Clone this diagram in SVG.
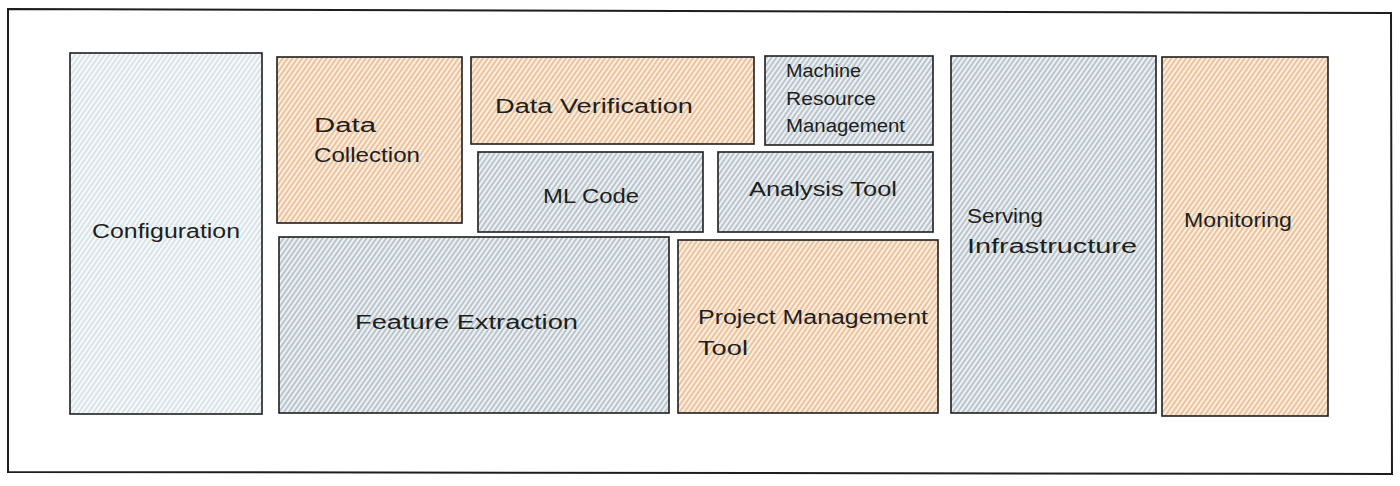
<svg xmlns="http://www.w3.org/2000/svg" width="1400" height="486" viewBox="0 0 1400 486">
<defs>
<pattern id="hOrange" patternUnits="userSpaceOnUse" width="5" height="4" patternTransform="rotate(-55)">
<rect width="5" height="4" fill="#fbeee2"/>
<line x1="0" y1="1" x2="5" y2="1" stroke="#e9b88a" stroke-width="1.6"/>
</pattern>
<pattern id="hBlue" patternUnits="userSpaceOnUse" width="5" height="4" patternTransform="rotate(-55)">
<rect width="5" height="4" fill="#eef1f3"/>
<line x1="0" y1="1" x2="5" y2="1" stroke="#a9b6bf" stroke-width="1.5"/>
</pattern>
<pattern id="hLight" patternUnits="userSpaceOnUse" width="5" height="4" patternTransform="rotate(-55)">
<rect width="5" height="4" fill="#f7f9fa"/>
<line x1="0" y1="1" x2="5" y2="1" stroke="#d0dde2" stroke-width="1.5"/>
</pattern>
</defs>
<style>
.box{stroke:#1e1e1e;stroke-width:1.6;}
.or{fill:url(#hOrange);}
.bl{fill:url(#hBlue);}
.lt{fill:url(#hLight);}
.t{font-family:"Liberation Sans","DejaVu Sans",sans-serif;font-size:20px;fill:#1e1e1e;}
.s{font-size:18px;}
</style>
<rect width="1400" height="486" fill="#ffffff"/>
<path d="M8 9 L1391 13 L1392 474 L8 472 Z" fill="none" stroke="#1e1e1e" stroke-width="2"/>
<g id="configuration">
<rect class="box lt" x="70" y="53" width="192" height="361"/>
<text class="t" x="92" y="238" textLength="148" lengthAdjust="spacingAndGlyphs">Configuration</text>
</g>
<g id="data-collection">
<rect class="box or" x="277" y="57" width="185" height="166"/>
<text class="t" x="314" y="132" textLength="62" lengthAdjust="spacingAndGlyphs">Data</text>
<text class="t" x="314" y="162" textLength="106" lengthAdjust="spacingAndGlyphs">Collection</text>
</g>
<g id="data-verification">
<rect class="box or" x="471" y="57" width="283" height="87"/>
<text class="t" x="495" y="113" textLength="198" lengthAdjust="spacingAndGlyphs">Data Verification</text>
</g>
<g id="machine-resource-management">
<rect class="box bl" x="765" y="56" width="168" height="89"/>
<text class="t s" x="786" y="77" textLength="75" lengthAdjust="spacingAndGlyphs">Machine</text>
<text class="t s" x="786" y="105" textLength="90" lengthAdjust="spacingAndGlyphs">Resource</text>
<text class="t s" x="786" y="132" textLength="119" lengthAdjust="spacingAndGlyphs">Management</text>
</g>
<g id="ml-code">
<rect class="box bl" x="478" y="152" width="225" height="80"/>
<text class="t" x="543" y="203" textLength="96" lengthAdjust="spacingAndGlyphs">ML Code</text>
</g>
<g id="analysis-tool">
<rect class="box bl" x="718" y="152" width="215" height="80"/>
<text class="t" x="749" y="196" textLength="148" lengthAdjust="spacingAndGlyphs">Analysis Tool</text>
</g>
<g id="feature-extraction">
<rect class="box bl" x="279" y="237" width="390" height="176"/>
<text class="t" x="355" y="329" textLength="223" lengthAdjust="spacingAndGlyphs">Feature Extraction</text>
</g>
<g id="project-management-tool">
<rect class="box or" x="678" y="240" width="260" height="173"/>
<text class="t" x="698" y="324" textLength="230" lengthAdjust="spacingAndGlyphs">Project Management</text>
<text class="t" x="698" y="355" textLength="50" lengthAdjust="spacingAndGlyphs">Tool</text>
</g>
<g id="serving-infrastructure">
<rect class="box bl" x="951" y="56" width="205" height="357"/>
<text class="t" x="967" y="223" textLength="76" lengthAdjust="spacingAndGlyphs">Serving</text>
<text class="t" x="967" y="253" textLength="170" lengthAdjust="spacingAndGlyphs">Infrastructure</text>
</g>
<g id="monitoring">
<rect class="box or" x="1162" y="57" width="166" height="359"/>
<text class="t" x="1184" y="227" textLength="108" lengthAdjust="spacingAndGlyphs">Monitoring</text>
</g>
<g id="connectors"></g>
</svg>
